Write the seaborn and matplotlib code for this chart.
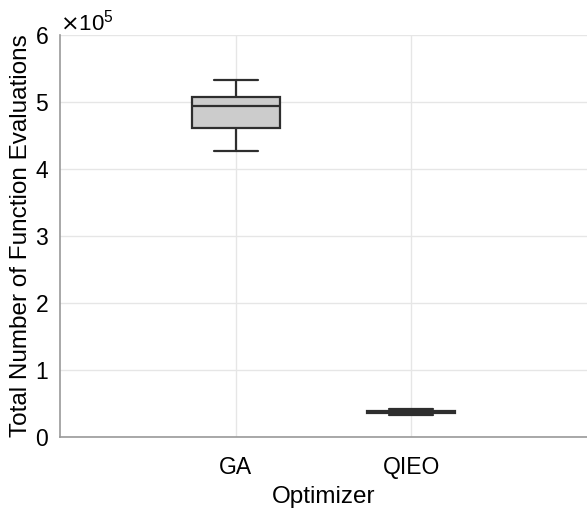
import numpy as np
import pandas as pd
import matplotlib
matplotlib.use("Agg")
import matplotlib.pyplot as plt
import seaborn as sns

# total function evaluations per run
ga_evals = [427000, 455000, 461000, 475000, 494000, 500000, 507000, 520000, 533000]
qieo_evals = [33500, 35000, 36500, 37500, 38000, 39000, 39500, 41000, 42500]
optimizers = ["GA", "QIEO"]

df = pd.DataFrame({
    "Optimizer": ["GA"] * len(ga_evals) + ["QIEO"] * len(qieo_evals),
    "Evals": ga_evals + qieo_evals,
})

sns.set_style("white")
plt.rcParams["font.family"] = ["Liberation Sans", "DejaVu Sans"]

fig = plt.figure(figsize=(5.87, 5.12), dpi=100)
ax = fig.add_axes([0.1022, 0.1465, 0.8978, 0.785])

sns.boxplot(data=df, x="Optimizer", y="Evals", order=optimizers, ax=ax,
            color="#cccccc", saturation=1, linecolor="#2e2e2e", linewidth=1.6,
            width=0.5, whis=np.inf, capwidths=0.25)

ax.set_xlim(-1, 2)
ax.set_ylim(0, 600000)
ax.set_yticks(np.arange(0, 600001, 100000))
ax.ticklabel_format(axis="y", style="sci", scilimits=(0, 0), useMathText=True)
ax.yaxis.get_offset_text().set_fontsize(16)
ax.yaxis.get_offset_text().set_color("black")

ax.grid(True, color="#e6e6e6", linewidth=1)
ax.set_axisbelow(True)
for s in ["top", "right"]:
    ax.spines[s].set_visible(False)
for s in ["left", "bottom"]:
    ax.spines[s].set_color("#999999")
    ax.spines[s].set_linewidth(1.2)

ax.tick_params(direction="in", length=4, color="#666666", labelsize=16.5,
               labelcolor="black")
ax.tick_params(axis="x", pad=14)
ax.tick_params(axis="y", pad=8)
ax.set_xlabel("Optimizer", fontsize=17.5, color="black", labelpad=5)
ax.set_ylabel("Total Number of Function Evaluations", fontsize=17.5,
              color="black", labelpad=2)

fig.savefig("out.png", dpi=100)
